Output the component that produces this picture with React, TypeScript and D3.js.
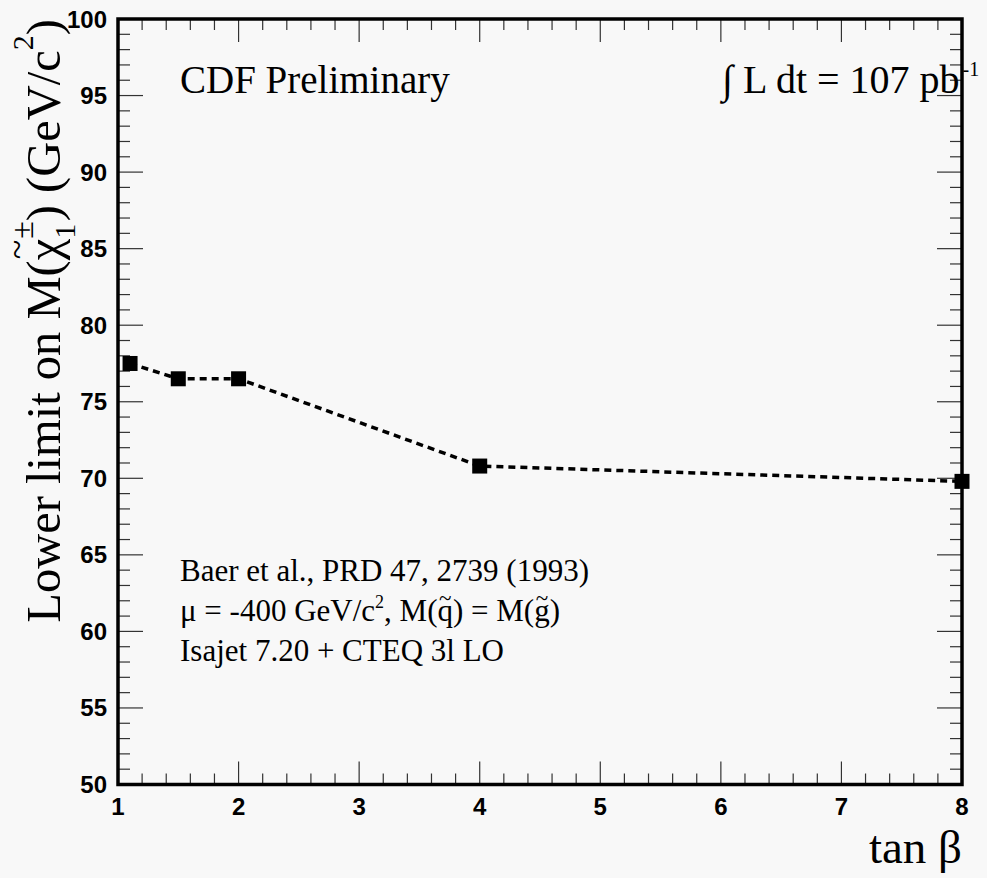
import React, { useEffect, useRef } from "react";
import * as d3 from "d3";

const tanBeta = [1.1, 1.5, 2, 4, 8];
const massLimit = [77.5, 76.5, 76.5, 70.8, 69.8];

const xMajorTicks = [1, 2, 3, 4, 5, 6, 7, 8];
const yMajorTicks = [50, 55, 60, 65, 70, 75, 80, 85, 90, 95, 100];

const annotationLines = [
  "Baer et al., PRD 47, 2739 (1993)",
  "Isajet 7.20 + CTEQ 3l LO",
];

const W = 987;
const H = 878;
const SERIF = "'Liberation Serif', 'Times New Roman', serif";
const SANS = "'Liberation Sans', Arial, sans-serif";

type Run = { t: string; fs: number; dy?: number; dx?: number; mode?: "normal" | "stack" | "accent" };

function rich(
  parent: d3.Selection<SVGGElement, unknown, null, undefined>,
  runs: Run[],
  x: number,
  y: number,
  rotate = 0,
  anchor: "start" | "end" = "start"
) {
  const g = parent.append("g");
  const inner = g.append("g");
  let cx = 0, ls = 0, le = 0;
  for (const r of runs) {
    const t = inner
      .append("text")
      .attr("font-family", SERIF)
      .attr("font-size", r.fs)
      .attr("fill", "#000")
      .style("white-space", "pre")
      .text(r.t);
    const node = t.node() as SVGTextElement;
    if (r.mode === "accent") {
      t.attr("text-anchor", "middle").attr("x", (ls + le) / 2 + (r.dx || 0)).attr("y", r.dy || 0);
      continue;
    }
    const w = node.getComputedTextLength();
    if (r.mode === "stack") {
      t.attr("x", ls + (r.dx || 0)).attr("y", r.dy || 0);
      cx = Math.max(cx, ls + w);
      continue;
    }
    t.attr("x", cx + (r.dx || 0)).attr("y", r.dy || 0);
    ls = cx;
    le = cx + w;
    cx += w + (r.dx || 0);
  }
  const off = anchor === "end" ? -cx : 0;
  inner.attr("transform", `translate(${off},0)`);
  g.attr("transform", `translate(${x},${y}) rotate(${rotate})`);
}

export default function App() {
  const ref = useRef<SVGSVGElement>(null);

  useEffect(() => {
    const svg = d3.select(ref.current as SVGSVGElement);
    svg.selectAll("*").remove();
    const root = svg.append("g") as d3.Selection<SVGGElement, unknown, null, undefined>;

    const left = 118, right = 962, top = 19, bottom = 784.5;
    const x = d3.scaleLinear().domain([1, 8]).range([left, right]);
    const y = d3.scaleLinear().domain([50, 100]).range([bottom, top]);

    root.append("rect").attr("x", 0).attr("y", 0).attr("width", W).attr("height", H).attr("fill", "#f8f8f8");

    const xMinor = d3.range(1, 8.0001, 0.2).filter((v) => Math.abs(v - Math.round(v)) > 1e-6);
    const yMinor = d3.range(50, 100.0001, 1).filter((v) => Math.round(v) % 5 !== 0);

    const tickG = root.append("g").attr("stroke", "#333").attr("stroke-width", 1.2);
    xMajorTicks.forEach((v) => {
      tickG.append("line").attr("x1", x(v)).attr("x2", x(v)).attr("y1", bottom).attr("y2", bottom - 23);
      tickG.append("line").attr("x1", x(v)).attr("x2", x(v)).attr("y1", top).attr("y2", top + 23);
    });
    xMinor.forEach((v) => {
      tickG.append("line").attr("x1", x(v)).attr("x2", x(v)).attr("y1", bottom).attr("y2", bottom - 11);
      tickG.append("line").attr("x1", x(v)).attr("x2", x(v)).attr("y1", top).attr("y2", top + 11);
    });
    yMajorTicks.forEach((v) => {
      tickG.append("line").attr("x1", left).attr("x2", left + 25).attr("y1", y(v)).attr("y2", y(v));
      tickG.append("line").attr("x1", right).attr("x2", right - 25).attr("y1", y(v)).attr("y2", y(v));
    });
    yMinor.forEach((v) => {
      tickG.append("line").attr("x1", left).attr("x2", left + 12).attr("y1", y(v)).attr("y2", y(v));
      tickG.append("line").attr("x1", right).attr("x2", right - 12).attr("y1", y(v)).attr("y2", y(v));
    });

    root
      .append("rect")
      .attr("x", left)
      .attr("y", top)
      .attr("width", right - left)
      .attr("height", bottom - top)
      .attr("fill", "none")
      .attr("stroke", "#000")
      .attr("stroke-width", 3.5);

    root
      .append("g")
      .selectAll("text")
      .data(xMajorTicks)
      .join("text")
      .attr("x", (d) => x(d))
      .attr("y", 815)
      .attr("text-anchor", "middle")
      .attr("font-family", SANS)
      .attr("font-weight", "bold")
      .attr("font-size", 24)
      .text((d) => String(d));
    root
      .append("g")
      .selectAll("text")
      .data(yMajorTicks)
      .join("text")
      .attr("x", left - 11)
      .attr("y", (d) => y(d) + 8.5)
      .attr("text-anchor", "end")
      .attr("font-family", SANS)
      .attr("font-weight", "bold")
      .attr("font-size", 24)
      .text((d) => String(d));

    const pts = tanBeta.map((t, i) => [t, massLimit[i]] as [number, number]);
    const line = d3
      .line<[number, number]>()
      .x((d) => x(d[0]))
      .y((d) => y(d[1]));
    root
      .append("path")
      .attr("d", line(pts) as string)
      .attr("fill", "none")
      .attr("stroke", "#000")
      .attr("stroke-width", 3.5)
      .attr("stroke-dasharray", "7,5");
    const ms = 15;
    root
      .append("g")
      .selectAll("rect")
      .data(pts)
      .join("rect")
      .attr("x", (d) => x(d[0]) - ms / 2)
      .attr("y", (d) => y(d[1]) - ms / 2)
      .attr("width", ms)
      .attr("height", ms)
      .attr("fill", "#000");

    rich(root, [{ t: "CDF Preliminary", fs: 39 }], 180, 93);
    rich(root, [{ t: "\u222B L dt = 107 pb", fs: 40 }, { t: "-1", fs: 20, dy: -17, dx: 3 }], 722, 93);

    rich(root, [{ t: annotationLines[0], fs: 31 }], 180, 581);
    rich(
      root,
      [
        { t: "\u03BC = -400 GeV/c", fs: 31 },
        { t: "2", fs: 18, dy: -13 },
        { t: ", M(", fs: 31 },
        { t: "q", fs: 31 },
        { t: "~", fs: 23, dy: -15, mode: "accent" },
        { t: ") = M(", fs: 31 },
        { t: "g", fs: 31 },
        { t: "~", fs: 23, dy: -15, mode: "accent" },
        { t: ")", fs: 31 },
      ],
      180,
      621
    );
    rich(root, [{ t: annotationLines[1], fs: 31 }], 180, 661);

    rich(root, [{ t: "tan \u03B2", fs: 47 }], 962, 863, 0, "end");
    rich(
      root,
      [
        { t: "Lower limit on M(", fs: 48.5 },
        { t: "\u03C7", fs: 48.5 },
        { t: "~", fs: 36, dy: -31, mode: "accent" },
        { t: "\u00B1", fs: 32, dy: -27 },
        { t: "1", fs: 30, dy: 15, mode: "stack" },
        { t: ") (GeV/c", fs: 48.5 },
        { t: "2", fs: 30, dy: -27 },
        { t: ")", fs: 48.5 },
      ],
      60,
      19,
      -90,
      "end"
    );
  }, []);

  return (
    <svg
      ref={ref}
      width={W}
      height={H}
      viewBox={`0 0 ${W} ${H}`}
      style={{ position: "absolute", left: 0, top: 0, display: "block" }}
    />
  );
}
